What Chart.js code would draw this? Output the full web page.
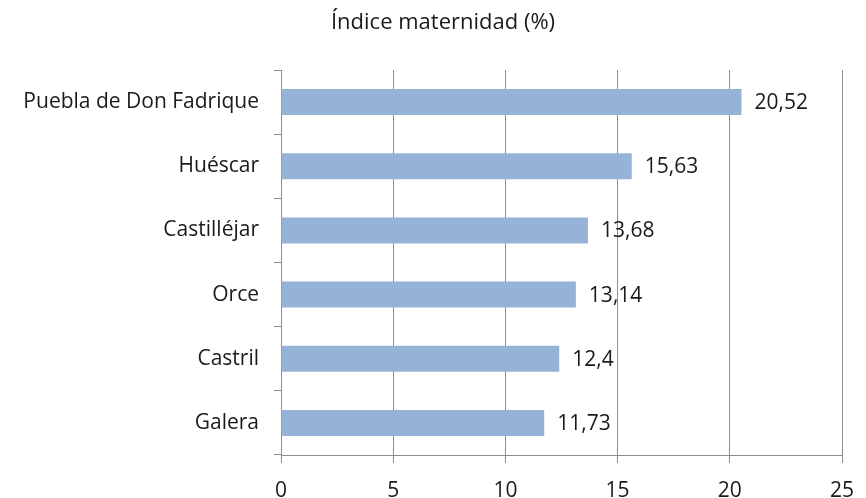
<!DOCTYPE html>
<html>
<head>
<meta charset="utf-8">
<script src="https://cdn.jsdelivr.net/npm/chart.js@4"></script>
<style>
  html, body { margin: 0; padding: 0; background: #fff; }
  #wrap { width: 866px; height: 498px; }
</style>
</head>
<body>
<div id="wrap"><canvas id="c" width="866" height="498"></canvas></div>
<script>
var categories = ['Puebla de Don Fadrique', 'Huéscar', 'Castilléjar', 'Orce', 'Castril', 'Galera'];
var values = [20.52, 15.63, 13.68, 13.14, 12.4, 11.73];
var xTicks = [0, 5, 10, 15, 20, 25];
var chartTitle = 'Índice maternidad (%)';

var FONT = "'Open Sans', 'Noto Sans', sans-serif";
var GRID = '#8c8c8c';

// value next to each bar (comma decimal) plus the title, which sits a bit right of centre
var barLabels = {
    id: 'barLabels',
    afterDatasetsDraw: function(chart) {
        var ctx = chart.ctx;
        var meta = chart.getDatasetMeta(0);
        ctx.save();
        ctx.font = '21px ' + FONT;
        ctx.fillStyle = '#1a1a1a';
        ctx.textAlign = 'left';
        ctx.textBaseline = 'middle';
        meta.data.forEach(function(bar, i) {
            var txt = String(values[i]).replace('.', ',');
            ctx.fillText(txt, bar.x + 13, bar.y + 1);
        });
        ctx.font = '22px ' + FONT;
        ctx.textAlign = 'center';
        ctx.fillText(chartTitle, 443, 23);
        ctx.restore();
    }
};

var ctx = document.getElementById('c');
var myChart = new Chart(ctx, {
    type: 'bar',
    data: {
        labels: categories,
        datasets: [{
            data: values,
            backgroundColor: '#95b3d7',
            borderWidth: 0,
            barPercentage: 0.81,
            categoryPercentage: 0.5
        }]
    },
    options: {
        indexAxis: 'y',
        responsive: false,
        animation: false,
        layout: { padding: { top: 70, right: 24, left: 0, bottom: 0 } },
        plugins: {
            legend: { display: false },
            tooltip: { enabled: false },
            title: { display: false }
        },
        scales: {
            x: {
                min: 0,
                max: 25,
                afterBuildTicks: function(scale) {
                    scale.ticks = xTicks.map(function(v) { return { value: v }; });
                },
                afterFit: function(scale) {
                    scale.height = 43;
                    scale.paddingRight = 0;
                    scale.paddingLeft = 0;
                },
                grid: { color: GRID, lineWidth: 1, tickLength: 8 },
                border: { color: GRID, width: 1 },
                ticks: {
                    color: '#1a1a1a',
                    font: { family: FONT, size: 21 },
                    padding: 15,
                    maxRotation: 0
                }
            },
            y: {
                afterFit: function(scale) { scale.width = 281; },
                grid: { offset: true, drawOnChartArea: false, color: GRID, tickLength: 7 },
                border: { color: GRID, width: 1 },
                ticks: {
                    color: '#1a1a1a',
                    font: { family: FONT, size: 21 },
                    padding: 15
                }
            }
        }
    },
    plugins: [barLabels]
});
</script>
</body>
</html>
